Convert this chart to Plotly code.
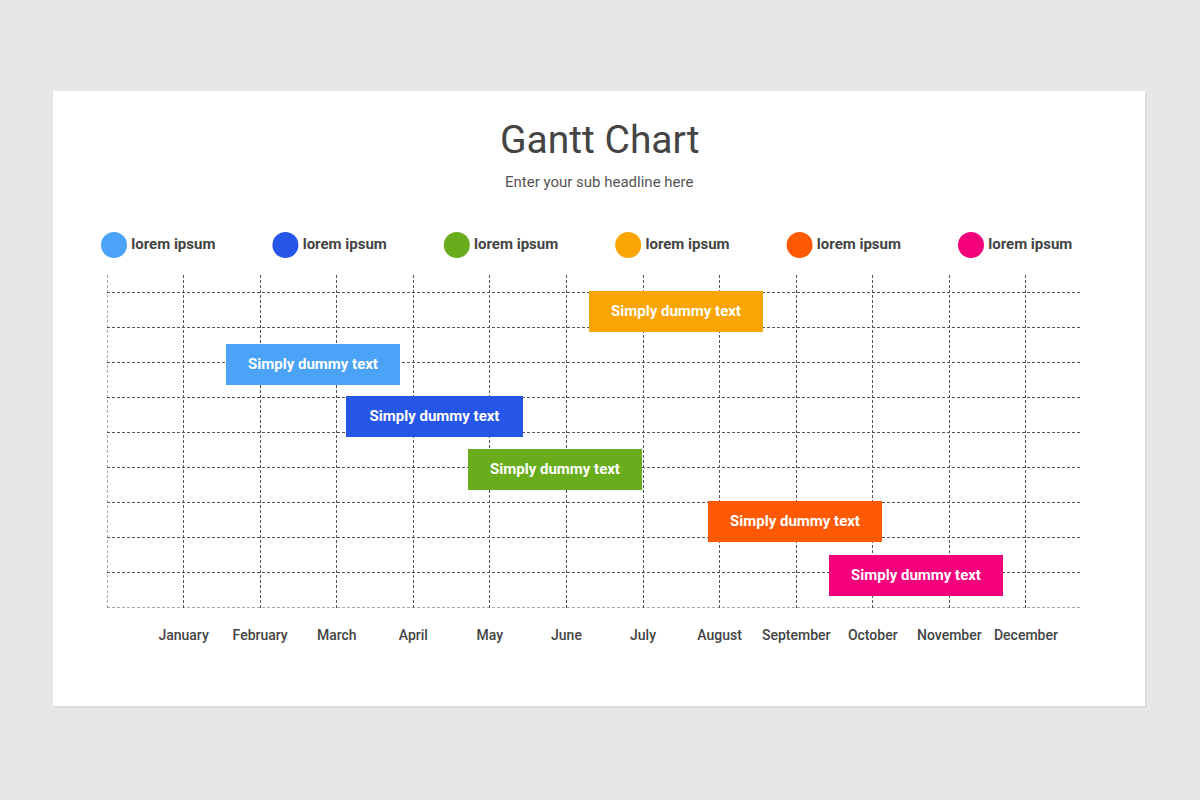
import plotly.graph_objects as go

# --- data ---
months = ["January", "February", "March", "April", "May", "June",
          "July", "August", "September", "October", "November", "December"]
legend_names = ["lorem ipsum"] * 6
colors = ["#4aa3f6", "#2656e8", "#69ad1c", "#fba503", "#ff5a03", "#f5007c"]
task_start = [1.55, 3.12, 4.71, 6.29, 7.85, 9.43]
task_end = [3.82, 5.43, 6.99, 8.56, 10.12, 11.70]
task_row = [6.95, 5.46, 3.95, 8.45, 2.46, 0.94]
task_label = ["Simply dummy text"] * 6

FONT = "Roboto"
TXT = "#444444"
GRID = "#555555"
X_MAX = 12.706
Y_MAX = 9.49

fig = go.Figure()

fig.add_trace(go.Bar(
    orientation="h",
    y=task_row,
    base=task_start,
    x=[e - s for s, e in zip(task_start, task_end)],
    width=1.17,
    marker=dict(color=colors, line=dict(width=0)),
    text=task_label,
    textposition="inside",
    insidetextanchor="middle",
    textfont=dict(family=FONT, size=15, color="white", weight="bold"),
    hoverinfo="skip",
    showlegend=False,
))

# legend row drawn as its own small axis
fig.add_trace(go.Scatter(
    x=list(range(len(legend_names))),
    y=[0] * len(legend_names),
    mode="markers+text",
    marker=dict(size=26, color=colors, line=dict(width=0)),
    text=legend_names,
    textposition="middle right",
    textfont=dict(family=FONT, size=15, color=TXT, weight="bold"),
    xaxis="x2", yaxis="y2",
    hoverinfo="skip",
    showlegend=False,
    cliponaxis=False,
))

grid_common = dict(showgrid=True, gridcolor=GRID, gridwidth=1, griddash="3px,2px",
                   zeroline=False, showline=False, ticks="", fixedrange=True)

fig.update_layout(
    width=1200, height=800,
    margin=dict(l=107, r=120, t=90, b=192),
    paper_bgcolor="#e8e6e8",
    plot_bgcolor="rgba(0,0,0,0)",
    font=dict(family=FONT, color=TXT),
    bargap=0,
    xaxis=dict(
        range=[0, X_MAX],
        tickvals=list(range(13)),
        ticktext=[""] + months,
        ticklabelstandoff=17,
        tickfont=dict(family=FONT, size=14, color=TXT, weight=500),
        **grid_common,
    ),
    yaxis=dict(
        domain=[0, 0.6429],
        range=[0, Y_MAX],
        tickvals=list(range(10)),
        showticklabels=False,
        **grid_common,
    ),
    xaxis2=dict(domain=[0, 1], anchor="y2", range=[-0.041, 5.636],
                visible=False, fixedrange=True),
    yaxis2=dict(domain=[0.6718, 0.7297], anchor="x2", range=[-1, 1],
                visible=False, fixedrange=True),
    shapes=[
        # card shadow and card
        dict(type="rect", xref="paper", yref="paper", layer="below",
             x0=-0.0535, x1=1.0688, y0=-0.193, y1=0.994,
             fillcolor="#dddbdd", line=dict(width=0)),
        dict(type="rect", xref="paper", yref="paper", layer="below",
             x0=-0.0555, x1=1.0668, y0=-0.189, y1=0.998,
             fillcolor="white", line=dict(width=0)),
        # grid borders at the axis edges (left and bottom)
        dict(type="line", xref="x", yref="y", x0=0, x1=0, y0=0, y1=Y_MAX,
             line=dict(color=GRID, width=1, dash="3px,2px")),
        dict(type="line", xref="x", yref="y", x0=0, x1=X_MAX, y0=0, y1=0,
             line=dict(color=GRID, width=1, dash="3px,2px")),
    ],
    annotations=[
        dict(text="Gantt Chart", xref="paper", yref="paper",
             x=0.5062, y=0.9035, yanchor="middle", showarrow=False,
             font=dict(family=FONT, size=39, color=TXT)),
        dict(text="Enter your sub headline here", xref="paper", yref="paper",
             x=0.5052, y=0.8224, yanchor="middle", showarrow=False,
             font=dict(family=FONT, size=15, color="#555555")),
    ],
)

fig.write_html("out.html", config={"displayModeBar": False},
               post_script="document.body.style.margin='0';")
